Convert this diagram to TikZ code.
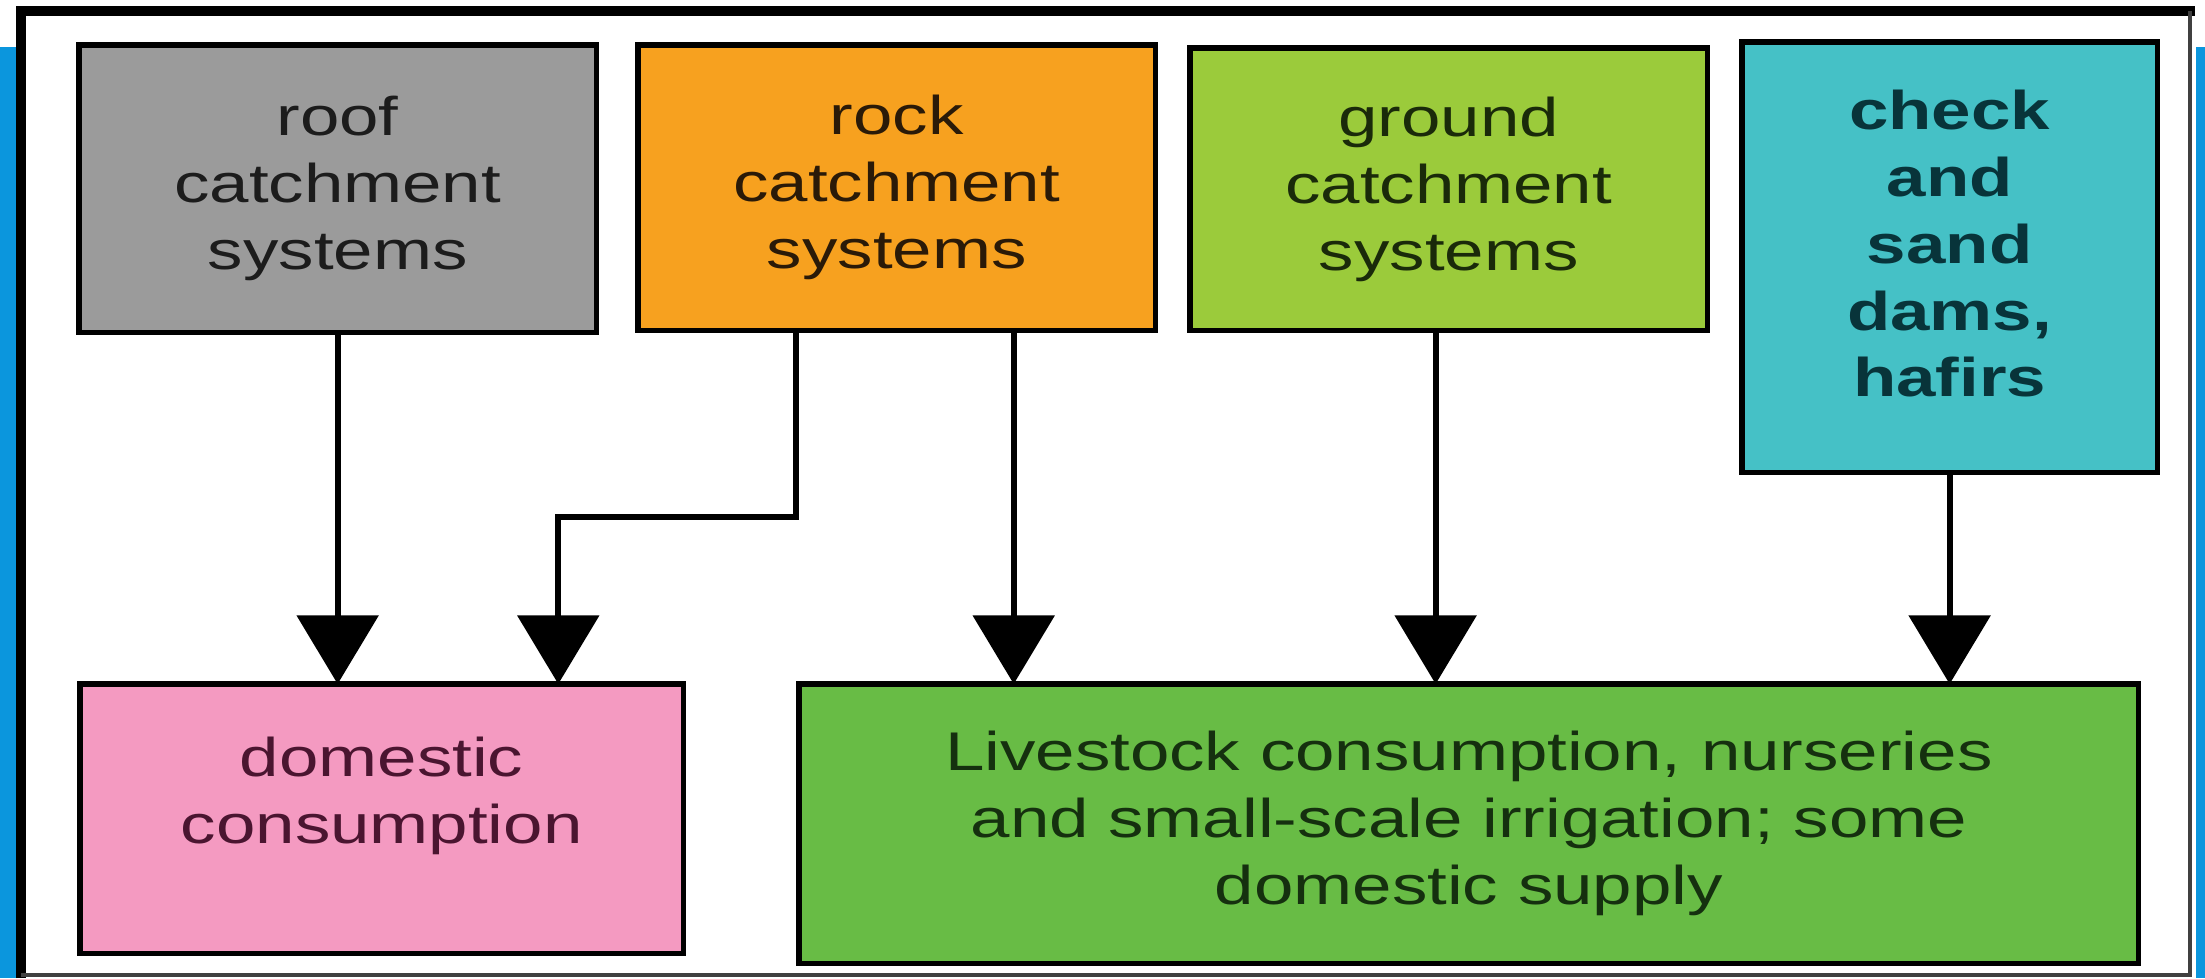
\documentclass[tikz,border=0pt]{standalone}
\usepackage{fontspec}
\setmainfont{Liberation Sans}[FakeStretch=1.3]
\usetikzlibrary{arrows.meta}
\definecolor{edgeblue}{HTML}{0B96DD}
\definecolor{roofgray}{HTML}{9B9B9B}
\definecolor{rockorange}{HTML}{F7A11F}
\definecolor{groundgreen}{HTML}{9BCB3B}
\definecolor{damteal}{HTML}{45C1C6}
\definecolor{homepink}{HTML}{F49AC1}
\definecolor{stockgreen}{HTML}{68BC45}
\definecolor{rooftext}{HTML}{1C1C1C}
\definecolor{rocktext}{HTML}{2A1A08}
\definecolor{groundtext}{HTML}{1A2A0A}
\definecolor{damtext}{HTML}{08343A}
\definecolor{hometext}{HTML}{4A1530}
\definecolor{stocktext}{HTML}{15300F}
\tikzset{
  box/.style={draw=black, line width=1.5pt, anchor=north west, align=center,
    inner sep=0pt, outer sep=0pt, font=\fontsize{15.5pt}{19pt}\selectfont},
  flow/.style={line width=1.7pt, -{Triangle[width=23pt,length=19.5pt]}},
}

\begin{document}
\begin{tikzpicture}[x=0.01cm, y=-0.01cm]
  \useasboundingbox (0,0) rectangle (2205,978);
  \fill[white] (0,0) rectangle (2205,978);
  \fill[edgeblue] (0,47) rectangle (16,978);
  \fill[edgeblue] (2196,47) rectangle (2205,978);
  % frame
  \draw[line width=2.8pt] (21,978) -- (21,11) -- (2195,11);
  \draw[line width=1.1pt, black!75] (2190,11) -- (2190,975) -- (21,975);

  \node[box, fill=roofgray, text=rooftext, minimum width=5.17cm, minimum height=2.87cm]
    (roof) at (79,45) {roof\\catchment\\systems};
  \node[box, fill=rockorange, text=rocktext, minimum width=5.17cm, minimum height=2.85cm]
    (rock) at (638,45) {rock\\catchment\\systems};
  \node[box, fill=groundgreen, text=groundtext, minimum width=5.17cm, minimum height=2.82cm]
    (ground) at (1190,48) {ground\\catchment\\systems};
  \node[box, fill=damteal, text=damtext, minimum width=4.15cm, minimum height=4.30cm,
    text depth=7.7pt, font=\fontsize{15.5pt}{19pt}\selectfont\bfseries]
    (dams) at (1742,42) {check\\and\\sand\\dams,\\hafirs};
  \node[box, fill=homepink, text=hometext, minimum width=6.03cm, minimum height=2.69cm,
    text depth=16pt] (domestic) at (80,684) {domestic\\consumption};
  \node[box, fill=stockgreen, text=stocktext, minimum width=13.39cm, minimum height=2.79cm]
    (livestock) at (799,684) {Livestock consumption, nurseries\\and small-scale irrigation; some\\domestic supply};

  \coordinate (rockL) at ([xshift=-1.01cm]rock.south);
  \coordinate (rockR) at ([xshift=1.17cm]rock.south);
  \coordinate (groundS) at ([xshift=-0.13cm]ground.south);

  \draw[flow] (roof.south) -- (roof.south |- domestic.north);
  \draw[flow] (rockL) -- ++(0,187) -| ([xshift=1.765cm]domestic.north);
  \draw[flow] (rockR) -- (rockR |- livestock.north);
  \draw[flow] (groundS) -- (groundS |- livestock.north);
  \draw[flow] (dams.south) -- (dams.south |- livestock.north);
\end{tikzpicture}
\end{document}
